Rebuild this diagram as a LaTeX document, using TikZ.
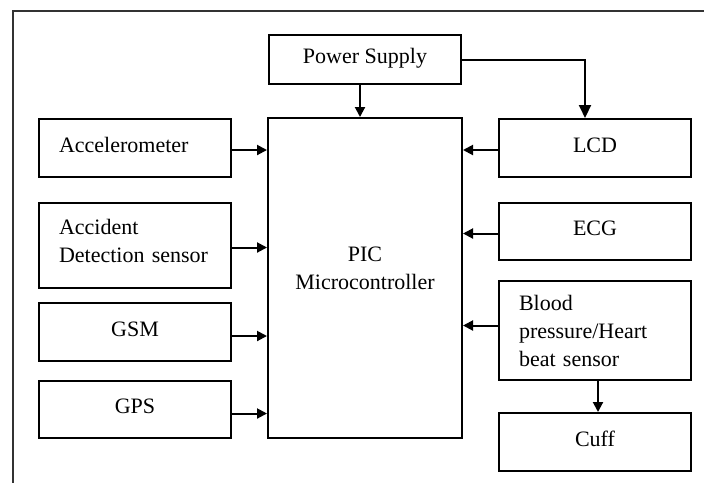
\documentclass[tikz,border=0pt]{standalone}
\usepackage{fontspec}
\setmainfont{Liberation Serif}
\usetikzlibrary{arrows.meta}

\begin{document}
\begin{tikzpicture}[x=0.5pt,y=-0.5pt,
  font=\fontsize{11}{14}\selectfont,
  blk/.style={draw,line width=1pt,minimum width=96pt,inner sep=0pt,align=center},
  oneline/.style={blk,text height=8pt,text depth=4pt},
  lblk/.style={blk,text width=76pt,inner xsep=10pt,align=left},
  arr/.style={line width=1pt,-{Triangle[length=5pt,width=5pt]}}]
\useasboundingbox (0,0) rectangle (704,483);
\draw[line width=.8pt,black!80] (704,11) -- (13,11) -- (13,483);
% blocks
\node[oneline,minimum height=24.5pt] (ps) at (365,59.5) {Power Supply};
\node[blk,minimum width=97pt,minimum height=160pt,
  label={[align=center,yshift=5pt]center:PIC\\Microcontroller}] (pic) at (365,278) {};
\node[oneline,text width=76pt,inner xsep=10pt,align=left,minimum height=29pt] (accel) at (135,148) {Accelerometer};
\node[lblk,minimum height=42.5pt,
  label={[align=left,text width=76pt,yshift=2.5pt]center:Accident\\Detection sensor}] (acc) at (135,245.5) {};
\node[oneline,minimum height=29pt] (gsm) at (135,332) {GSM};
\node[oneline,minimum height=28.5pt] (gps) at (135,409.5) {GPS};
\node[oneline,minimum height=29pt] (lcd) at (595,148) {LCD};
\node[oneline,minimum height=28.5pt] (ecg) at (595,231.5) {ECG};
\node[lblk,minimum height=49.5pt] (bp) at (595,330.5) {Blood\\pressure/Heart\\beat sensor};
\node[oneline,minimum height=29pt] (cuff) at (595,442) {Cuff};
% connections
\draw[arr] (ps.south -| 360,0) -- (pic.north -| 360,0);
\draw[line width=1pt,-{Triangle[length=6.5pt,width=6pt]}] (ps.east) -| ([xshift=-5pt]lcd.north);
\draw[arr] ([yshift=-1pt]accel.east) -- ([yshift=-1pt]accel.east -| pic.west);
\draw[arr] ([yshift=-1pt]acc.east) -- ([yshift=-1pt]acc.east -| pic.west);
\draw[arr] ([yshift=-2pt]gsm.east) -- ([yshift=-2pt]gsm.east -| pic.west);
\draw[arr] ([yshift=-2pt]gps.east) -- ([yshift=-2pt]gps.east -| pic.west);
\draw[arr] ([yshift=-1pt]lcd.west) -- ([yshift=-1pt]lcd.west -| pic.east);
\draw[arr] ([yshift=-1pt]ecg.west) -- ([yshift=-1pt]ecg.west -| pic.east);
\draw[arr] ([yshift=2.5pt]bp.west) -- ([yshift=2.5pt]bp.west -| pic.east);
\draw[arr] ([xshift=1.5pt]bp.south) -- ([xshift=1.5pt]bp.south |- cuff.north);
\end{tikzpicture}
\end{document}
